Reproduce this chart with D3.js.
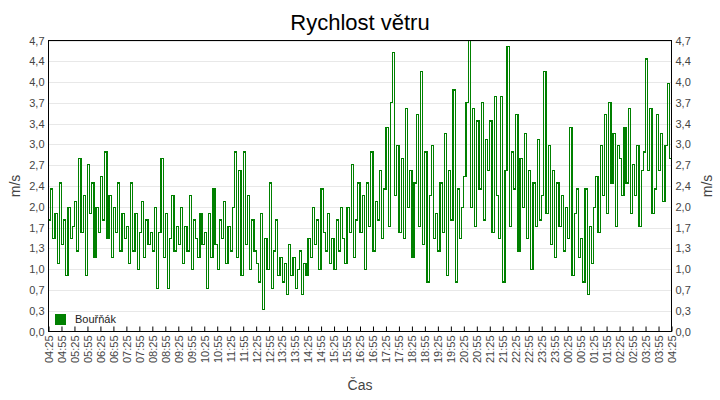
<!DOCTYPE html>
<html><head><meta charset="utf-8">
<script src="https://cdn.jsdelivr.net/npm/d3@7"></script>
<style>body{margin:0;background:#fff;font-family:Arial,"Liberation Sans",sans-serif}</style>
</head><body>
<script>
// wind speed, one value every 5 minutes from 04:25
var speeds = [
 1.8,2.3,1.5,1.9,1.1,2.4,1.4,1.8,0.9,2.0,1.5,1.7,
 2.1,1.3,2.8,1.6,2.2,0.9,2.7,1.9,2.4,1.2,2.0,1.6,
 2.5,1.8,2.9,1.5,2.2,1.2,2.0,1.6,2.4,1.3,1.9,1.5,
 1.7,1.1,2.4,1.3,1.9,1.0,1.6,2.1,1.2,1.8,1.4,1.6,
 1.3,2.0,0.7,1.6,2.8,1.2,1.9,0.7,1.5,2.2,1.3,1.7,
 1.4,2.0,1.1,1.7,1.3,2.2,1.0,1.8,1.5,1.2,1.9,1.4,
 1.6,0.7,1.9,1.2,2.3,1.4,1.0,1.8,1.5,2.1,1.1,1.7,
 1.3,2.0,2.9,1.2,2.6,0.9,2.9,1.4,2.2,1.0,1.8,1.3,
 1.1,0.8,1.9,0.35,1.5,1.0,2.4,0.7,1.3,1.8,0.9,1.2,
 0.8,1.1,0.6,1.4,0.9,1.2,0.7,1.0,1.3,0.6,1.1,0.9,
 1.5,1.2,2.0,1.4,1.8,1.0,2.3,1.6,1.3,1.9,1.1,1.5,
 1.0,1.8,1.3,2.0,1.5,1.1,2.0,1.6,2.7,1.2,1.8,2.4,
 1.6,2.2,1.0,2.4,1.7,2.9,1.3,2.1,1.8,2.6,1.5,2.3,
 3.3,1.7,3.7,4.5,2.2,3.0,1.6,2.8,1.5,3.6,2.0,2.6,
 1.2,2.4,3.5,1.7,4.2,1.4,2.9,0.8,2.2,3.0,1.5,1.9,
 1.3,2.4,1.6,3.2,0.9,2.6,1.8,3.9,0.8,2.3,1.5,2.0,
 2.5,3.7,4.7,2.0,3.6,1.7,3.4,2.3,3.7,1.8,3.1,2.6,
 3.4,1.6,3.8,2.2,1.5,3.8,0.8,2.6,4.6,1.7,2.9,2.3,
 3.5,1.3,2.8,2.0,3.2,1.5,2.6,1.0,2.4,1.7,3.1,1.8,
 2.2,4.2,1.9,3.0,1.4,2.6,1.2,2.4,1.7,2.2,1.3,2.0,
 1.5,3.3,0.9,1.9,2.3,1.2,1.5,0.8,2.3,0.6,1.7,1.1,
 2.0,2.5,1.6,3.0,2.2,3.5,1.9,3.7,2.4,3.2,1.7,3.0,
 2.8,2.2,3.3,2.4,3.6,1.9,2.7,2.2,3.0,1.7,2.6,2.9,
 4.4,2.6,3.6,1.9,2.3,3.5,2.6,3.2,2.1,3.0,4.0,2.8,
 3.4
];
var stepMinutes = 5;
var timeLabels = ["04:25","04:55","05:25","05:55","06:25","06:55","07:25","07:55","08:25","08:55",
 "09:25","09:55","10:25","10:55","11:25","11:55","12:25","12:55","13:25","13:55","14:25","14:55",
 "15:25","15:55","16:25","16:55","17:25","17:55","18:25","18:55","19:25","19:55","20:25","20:55",
 "21:25","21:55","22:25","22:55","23:25","23:55","00:25","00:55","01:25","01:55","02:25","02:55",
 "03:25","03:55","04:25"];
var yTicks = d3.range(15).map(function(i){ return i * 4.7 / 14; });

var W = 720, H = 400, m = {left:48.5, right:48.5, top:40.5, bottom:68.5};
var svg = d3.select("body").append("svg").attr("width", W).attr("height", H);

var x = d3.scaleLinear().domain([0, (timeLabels.length - 1) * 30]).range([m.left, W - m.right]);
var y = d3.scaleLinear().domain([0, 4.7]).range([H - m.bottom, m.top]);
var fmt = function(d){ return d3.format(".1f")(d).replace(".", ","); };

//gridlines
svg.append("g").selectAll("line").data(yTicks.slice(1)).enter().append("line")
  .attr("x1", m.left).attr("x2", W - m.right)
  .attr("y1", function(d){ return Math.round(y(d)) + 0.5; })
  .attr("y2", function(d){ return Math.round(y(d)) + 0.5; })
  .attr("stroke", "#e8e8e8");

//the series
var line = d3.line().curve(d3.curveStepAfter)
  .x(function(d, i){ return x(i * stepMinutes); })
  .y(function(d){ return y(d); });
svg.append("path").datum(speeds).attr("d", line)
  .attr("fill", "none").attr("stroke", "#008000").attr("stroke-width", 1.2)
  .attr("shape-rendering", "crispEdges");

//frame
svg.append("rect").attr("x", m.left).attr("y", m.top)
  .attr("width", W - m.left - m.right).attr("height", H - m.top - m.bottom)
  .attr("fill", "none").attr("stroke", "#000");

//axes
var yl = d3.axisLeft(y).tickValues(yTicks).tickFormat(fmt).tickSize(0).tickPadding(4);
var yr = d3.axisRight(y).tickValues(yTicks).tickFormat(fmt).tickSize(0).tickPadding(4);
var xa = d3.axisBottom(x).tickValues(d3.range(timeLabels.length).map(function(i){ return i * 30; }))
  .tickFormat(function(d){ return timeLabels[d / 30]; }).tickSize(-5).tickPadding(4);

[svg.append("g").attr("transform", "translate(" + m.left + ",0)").call(yl),
 svg.append("g").attr("transform", "translate(" + (W - m.right) + ",0)").call(yr)]
 .forEach(function(g){
   g.select(".domain").remove();
   g.selectAll("text").style("font-size", "11px").style("font-family", "Arial,Liberation Sans").attr("fill", "#444");
 });

var gx = svg.append("g").attr("transform", "translate(0," + (H - m.bottom) + ")").call(xa);
gx.select(".domain").remove();
gx.selectAll("line").attr("stroke", "#000");
gx.selectAll("text")
  .style("font-size", "11px").style("font-family", "Arial,Liberation Sans").attr("fill", "#444")
  .attr("transform", "rotate(-90)").attr("text-anchor", "end")
  .attr("x", -4).attr("y", 0).attr("dy", "0.35em");

//titles
svg.append("text").attr("x", W / 2).attr("y", 30).attr("text-anchor", "middle")
  .style("font-size", "22px").text("Rychlost větru");
svg.append("text").attr("transform", "translate(20," + ((m.top + H - m.bottom) / 2) + ") rotate(-90)")
  .attr("text-anchor", "middle").style("font-size", "14px").attr("fill", "#444").text("m/s");
svg.append("text").attr("transform", "translate(" + (W - 8) + "," + ((m.top + H - m.bottom) / 2) + ") rotate(-90)")
  .attr("text-anchor", "middle").style("font-size", "14px").attr("fill", "#444").text("m/s");
svg.append("text").attr("x", W / 2).attr("y", 390).attr("text-anchor", "middle")
  .style("font-size", "14px").attr("fill", "#444").text("Čas");

//legend
svg.append("rect").attr("x", 55).attr("y", 314).attr("width", 11).attr("height", 11).attr("fill", "#008000");
svg.append("text").attr("x", 75).attr("y", 323).style("font-size", "11px").attr("fill", "#222").text("Bouřňák");
</script>
</body></html>
